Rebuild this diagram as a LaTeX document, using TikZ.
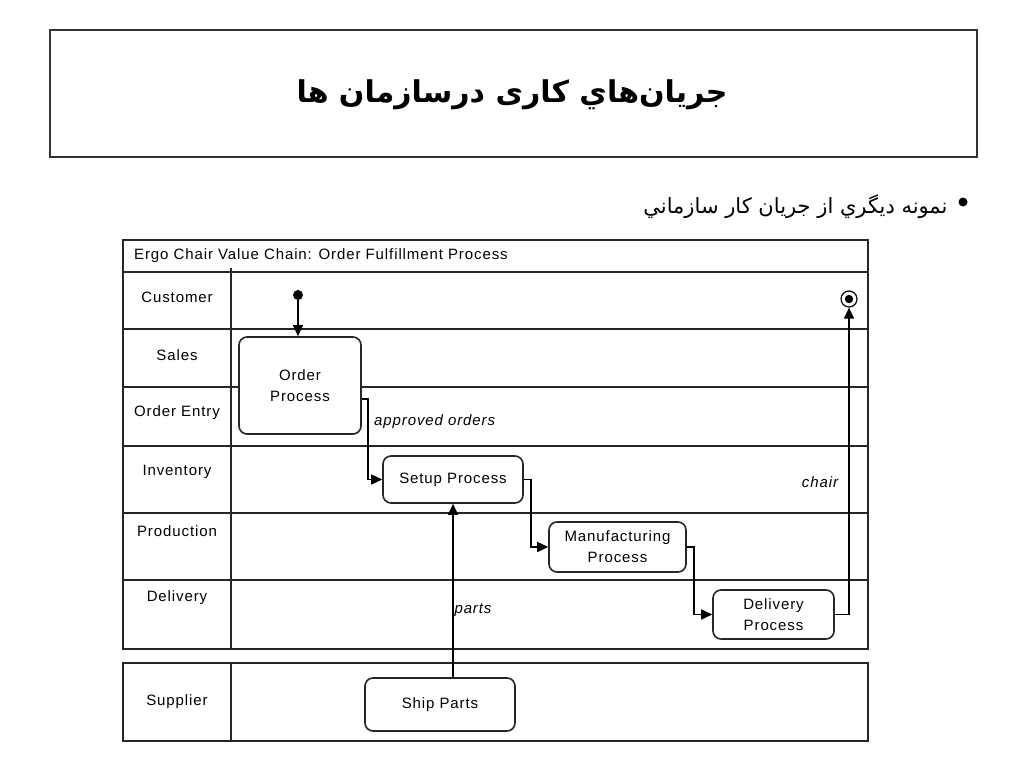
\documentclass[tikz,border=0pt]{standalone}
\usepackage{fontspec}
\setmainfont{Liberation Sans}
\newfontfamily\diagfont[LetterSpace=6]{Liberation Sans}
\newfontfamily\arabicfont[Script=Arabic]{DejaVu Sans}
\TeXXeTstate=1
\usetikzlibrary{arrows.meta}
\tikzset{
  lane/.style={line width=1.8pt, draw=black!85},
  proc/.style={draw=black!85, line width=1.6pt, rounded corners=8pt, fill=white, align=center, font=\diagfont\fontsize{15}{21}\selectfont, inner sep=2pt},
  lbl/.style={font=\diagfont\fontsize{15}{18}\selectfont, inner sep=1pt},
  flow/.style={line width=1.5pt, -{Triangle[length=11pt,width=10pt]}},
  flowlbl/.style={font=\diagfont\fontsize{15}{18}\selectfont\itshape, inner sep=1pt},
}
\begin{document}
\begin{tikzpicture}[x=1pt,y=-1pt]
\useasboundingbox (0,0) rectangle (1024,768);
% title
\draw[line width=2.2pt, draw=black!80] (50,30) rectangle (977,157);
\node (title) at (512,95) {\arabicfont\bfseries\fontsize{30}{36}\selectfont\beginR جريان‌هاي كاری درسازمان ها\endR};
% bullet
\fill (963,202) circle (4.5);
\node[anchor=east] (sub) at (951,207) {\arabicfont\fontsize{21}{26}\selectfont\beginR نمونه ديگري از جريان كار سازماني\endR};
% main table
\draw[lane] (123,240) rectangle (868,649);
\foreach \yy in {272,329,387,446,513,580} \draw[lane] (123,\yy) -- (868,\yy);
\draw[lane] (231,268) -- (231,649);
\node[lbl, anchor=west] (hdr) at (133,256) {Ergo Chair Value Chain: Order Fulfillment Process};
\node[lbl] (lcust) at (177,297) {Customer};
\node[lbl] (lsales) at (177,355) {Sales};
\node[lbl] (loe) at (177,413) {Order Entry};
\node[lbl] (linv) at (177,472) {Inventory};
\node[lbl] (lprod) at (177,531) {Production};
\node[lbl] (ldel) at (177,598) {Delivery};
% supplier table
\draw[lane] (123,663) rectangle (868,741);
\draw[lane] (231,663) -- (231,741);
\node[lbl] (lsup) at (177,702) {Supplier};
% process nodes
\node[proc, minimum width=122pt, minimum height=97pt] (order) at (300,385.5) {Order\\Process};
\node[proc, minimum width=140pt, minimum height=47pt] (setup) at (453,479.5) {Setup Process};
\node[proc, minimum width=137pt, minimum height=50pt] (manuf) at (617.5,547) {Manufacturing\\Process};
\node[proc, minimum width=121pt, minimum height=49pt] (deliv) at (773.5,614.5) {Delivery\\Process};
\node[proc, minimum width=150pt, minimum height=53pt] (ship) at (440,704.5) {Ship Parts};
% start / end
\node[circle, fill=black, inner sep=0pt, minimum size=10pt] (start) at (298,295) {};
\node[circle, draw=black, line width=1.2pt, inner sep=0pt, minimum size=16pt] (end) at (849,299) {};
\fill (end.center) circle (4.2);
% flows
\draw[flow] (start) -- (start |- order.north);
\draw[flow] ([yshift=-13.5pt]order.east) -- ++(6,0) |- (setup.west);
\draw[flow] (setup.east) -- ++(7,0) |- (manuf.west);
\draw[flow] (manuf.east) -- ++(7,0) |- (deliv.west);
\draw[flow] (deliv.east) -| (end.south);
\draw[flow] (ship.north -| setup.south) -- (setup.south);
% flow labels
\node[flowlbl, anchor=west] (appr) at (373,422) {approved orders};
\node[flowlbl] (chair) at (820,482) {chair};
\node[flowlbl] (parts) at (473,610) {parts};
\end{tikzpicture}
\end{document}
